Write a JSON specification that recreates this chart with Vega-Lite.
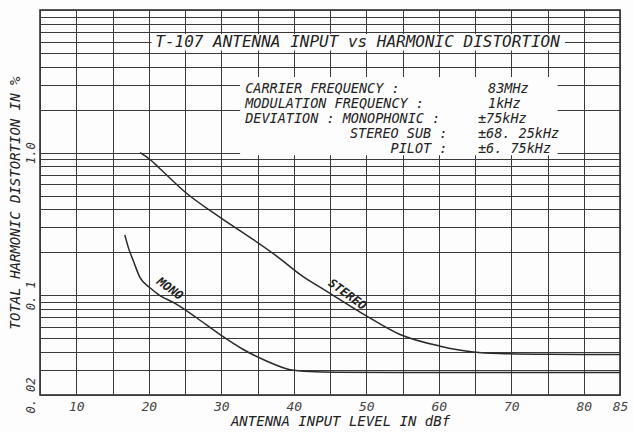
{
  "$schema": "https://vega.github.io/schema/vega-lite/v6.json",
  "width": 580,
  "height": 385,
  "autosize": {"type": "none"},
  "padding": {"left": 40, "top": 10, "right": 14, "bottom": 37},
  "background": "#fdfdfd",
  "config": {
    "view": {"stroke": "#222", "strokeWidth": 1.5},
    "font": "DejaVu Sans Mono",
    "text": {"font": "DejaVu Sans Mono", "fontStyle": "italic", "color": "#222"}
  },
  "datasets": {
    "curves": [
      {"series": "MONO", "level": 16.7, "thd": 0.265},
      {"series": "MONO", "level": 17.2, "thd": 0.215},
      {"series": "MONO", "level": 17.87, "thd": 0.1745},
      {"series": "MONO", "level": 18.8, "thd": 0.133},
      {"series": "MONO", "level": 20.17, "thd": 0.113},
      {"series": "MONO", "level": 21.5, "thd": 0.1},
      {"series": "MONO", "level": 23.86, "thd": 0.0865},
      {"series": "MONO", "level": 26.6, "thd": 0.0696},
      {"series": "MONO", "level": 29.83, "thd": 0.0531},
      {"series": "MONO", "level": 33.04, "thd": 0.0417},
      {"series": "MONO", "level": 36.3, "thd": 0.0345},
      {"series": "MONO", "level": 39.5, "thd": 0.0301},
      {"series": "MONO", "level": 42.2, "thd": 0.0292},
      {"series": "MONO", "level": 46, "thd": 0.0289},
      {"series": "MONO", "level": 55, "thd": 0.0288},
      {"series": "MONO", "level": 70, "thd": 0.0288},
      {"series": "MONO", "level": 85, "thd": 0.0288},
      {"series": "STEREO", "level": 18.8, "thd": 1.0},
      {"series": "STEREO", "level": 20.17, "thd": 0.895},
      {"series": "STEREO", "level": 21.55, "thd": 0.772},
      {"series": "STEREO", "level": 25.0, "thd": 0.53},
      {"series": "STEREO", "level": 29.83, "thd": 0.352},
      {"series": "STEREO", "level": 33.97, "thd": 0.2545},
      {"series": "STEREO", "level": 37.6, "thd": 0.189},
      {"series": "STEREO", "level": 41.3, "thd": 0.135},
      {"series": "STEREO", "level": 44.5, "thd": 0.107},
      {"series": "STEREO", "level": 50.06, "thd": 0.0715},
      {"series": "STEREO", "level": 54.66, "thd": 0.0531},
      {"series": "STEREO", "level": 60.2, "thd": 0.044},
      {"series": "STEREO", "level": 64.8, "thd": 0.0401},
      {"series": "STEREO", "level": 68.4, "thd": 0.0391},
      {"series": "STEREO", "level": 75, "thd": 0.0386},
      {"series": "STEREO", "level": 85, "thd": 0.0385}
    ],
    "curveLabels": [
      {"series": "MONO", "level": 22.93, "thd": 0.1116},
      {"series": "STEREO", "level": 47.4, "thd": 0.1016}
    ],
    "paramLeft": [
      {"text": "CARRIER FREQUENCY :", "thd": 2.791},
      {"text": "MODULATION FREQUENCY :", "thd": 2.189},
      {"text": "DEVIATION : MONOPHONIC :", "thd": 1.716}
    ],
    "paramRight": [
      {"text": "STEREO SUB :", "thd": 1.346},
      {"text": "PILOT :", "thd": 1.055}
    ],
    "paramValues": [
      {"text": "±75kHz", "thd": 1.716},
      {"text": "±68. 25kHz", "thd": 1.346},
      {"text": "±6. 75kHz", "thd": 1.055}
    ],
    "paramFreq": [
      {"text": "83MHz", "thd": 2.791},
      {"text": "1kHz", "thd": 2.189}
    ]
  },
  "layer": [
    {
      "data": {"name": "curves"},
      "mark": {"type": "line", "color": "#2a2a2a", "strokeWidth": 1.5, "interpolate": "monotone"},
      "encoding": {
        "x": {
          "field": "level",
          "type": "quantitative",
          "scale": {"domain": [5, 85], "nice": false, "zero": false},
          "axis": {
            "values": [5, 10, 15, 20, 25, 30, 35, 40, 45, 50, 55, 60, 65, 70, 75, 80, 85],
            "tickCount": 100,
            "labelExpr": "(datum.value % 10 == 0 || datum.value == 85) ? datum.label : ''",
            "grid": true,
            "gridColor": "#3a3a3a",
            "gridWidth": 1,
            "ticks": false,
            "tickSize": 0,
            "domain": false,
            "labelFont": "DejaVu Sans Mono",
            "labelFontStyle": "italic",
            "labelFontSize": 13,
            "labelColor": "#444",
            "labelPadding": 5,
            "labelFlush": false,
            "labelOverlap": false,
            "labelBound": false,
            "title": "ANTENNA INPUT LEVEL IN dBf",
            "titleFont": "DejaVu Sans Mono",
            "titleFontStyle": "italic",
            "titleFontWeight": "normal",
            "titleFontSize": 14,
            "titleColor": "#222",
            "titlePadding": 1,
            "titleX": 300
          }
        },
        "y": {
          "field": "thd",
          "type": "quantitative",
          "scale": {"type": "log", "domain": [0.02, 10], "nice": false},
          "axis": {
            "values": [0.02, 0.03, 0.04, 0.05, 0.06, 0.07, 0.08, 0.09, 0.1, 0.2, 0.3, 0.4, 0.5, 0.6, 0.7, 0.8, 0.9, 1, 2, 3, 4, 5, 6, 7, 8, 9, 10],
            "tickCount": 100,
            "labelExpr": "datum.value == 1 ? '1.0' : datum.value == 0.1 ? '0. 1' : datum.value == 0.02 ? '0. 02' : ''",
            "grid": true,
            "gridColor": "#3a3a3a",
            "gridWidth": 1,
            "ticks": false,
            "tickSize": 0,
            "domain": false,
            "labelAngle": 270,
            "labelAlign": "center",
            "labelBaseline": "bottom",
            "labelPadding": 3,
            "labelFont": "DejaVu Sans Mono",
            "labelFontStyle": "italic",
            "labelFontSize": 12,
            "labelColor": "#333",
            "labelOverlap": false,
            "labelFlush": false,
            "labelBound": false,
            "title": "TOTAL HARMONIC DISTORTION IN %",
            "titleFont": "DejaVu Sans Mono",
            "titleFontStyle": "italic",
            "titleFontWeight": "normal",
            "titleFontSize": 14,
            "titleColor": "#222",
            "titlePadding": 2
          }
        },
        "detail": {"field": "series"}
      }
    },
    {
      "data": {"values": [{}]},
      "mark": {"type": "rect", "fill": "#fdfdfd"},
      "encoding": {
        "x": {"datum": 20.4},
        "x2": {"datum": 77.4},
        "y": {"datum": 6.8},
        "y2": {"datum": 5.2}
      }
    },
    {
      "data": {"values": [{}]},
      "mark": {"type": "rect", "fill": "#fdfdfd"},
      "encoding": {
        "x": {"datum": 32.6},
        "x2": {"datum": 76.4},
        "y": {"datum": 3.39},
        "y2": {"datum": 0.957}
      }
    },
    {
      "data": {"values": [{}]},
      "mark": {"type": "text", "fontSize": 16, "align": "center", "baseline": "middle"},
      "encoding": {
        "x": {"datum": 48.8},
        "y": {"datum": 5.95},
        "text": {"value": "T-107 ANTENNA INPUT vs HARMONIC DISTORTION"}
      }
    },
    {
      "data": {"name": "paramLeft"},
      "mark": {"type": "text", "fontSize": 13.5, "align": "left", "baseline": "middle"},
      "encoding": {
        "x": {"datum": 33.3},
        "y": {"field": "thd", "type": "quantitative"},
        "text": {"field": "text"}
      }
    },
    {
      "data": {"name": "paramRight"},
      "mark": {"type": "text", "fontSize": 13.5, "align": "right", "baseline": "middle"},
      "encoding": {
        "x": {"datum": 61.2},
        "y": {"field": "thd", "type": "quantitative"},
        "text": {"field": "text"}
      }
    },
    {
      "data": {"name": "paramValues"},
      "mark": {"type": "text", "fontSize": 13.5, "align": "left", "baseline": "middle"},
      "encoding": {
        "x": {"datum": 65.4},
        "y": {"field": "thd", "type": "quantitative"},
        "text": {"field": "text"}
      }
    },
    {
      "data": {"name": "paramFreq"},
      "mark": {"type": "text", "fontSize": 13.5, "align": "left", "baseline": "middle"},
      "encoding": {
        "x": {"datum": 66.8},
        "y": {"field": "thd", "type": "quantitative"},
        "text": {"field": "text"}
      }
    },
    {
      "data": {"name": "curveLabels"},
      "mark": {"type": "text", "fontSize": 12, "fontWeight": "bold", "angle": 36, "align": "center", "baseline": "middle"},
      "encoding": {
        "x": {"field": "level", "type": "quantitative"},
        "y": {"field": "thd", "type": "quantitative"},
        "text": {"field": "series"}
      }
    }
  ]
}
